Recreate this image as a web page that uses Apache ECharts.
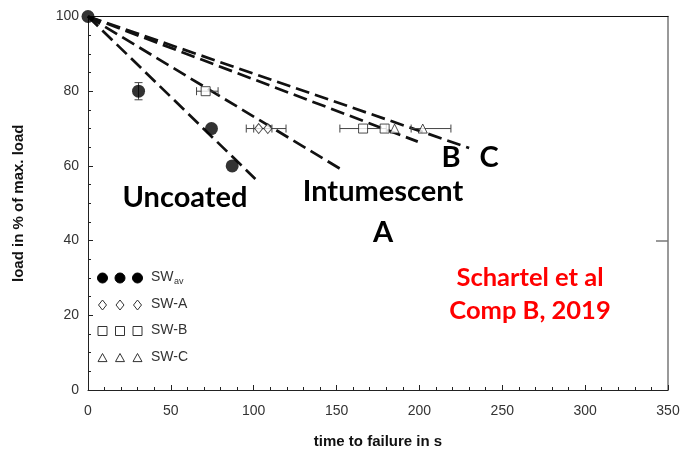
<!DOCTYPE html>
<html><head><meta charset="utf-8">
<script src="https://cdn.jsdelivr.net/npm/echarts@6/dist/echarts.min.js"></script>
<style>html,body{margin:0;padding:0;background:#fff}#c{width:685px;height:454px}</style>
</head><body><div id="c"></div>
<script>
// ---- data ----
const xTicks = [0, 50, 100, 150, 200, 250, 300, 350];
const yTicks = [0, 20, 40, 60, 80, 100];
const timeAv = [0, 30.5, 74.5, 87];
const loadAv = [100, 80, 70, 60];
const timeA = [103, 108.5];
const loadA = [70, 70];
const timeB = [71, 166, 179];
const loadB = [80, 70, 70];
const timeC = [185, 202];
const loadC = [70, 70];
// error bars: [x, y, low, high]
const errAvY = [[30.5, 80, 77.7, 82.3]];
const errAX = [[103, 70, 95.5, 111], [108.5, 70, 100, 119.5]];
const errBX = [[71, 80, 65.5, 78.5], [166, 70, 152, 180]];
const errCX = [[202, 70, 195, 219]];
// dashed fit lines [time, load]
const fitUncoated = [[0, 100], [101, 56.5]];
const fitA = [[0, 100], [153, 59]];
const fitB = [[0, 100], [199, 66.5]];
const fitC = [[0, 100], [230, 64.8]];

const zip = (a, b) => a.map((v, i) => [v, b[i]]);

const chart = echarts.init(document.getElementById('c'), null, {renderer: 'canvas'});

function errRender(vertical) {
  return function (params, api) {
    const x = api.value(0), y = api.value(1), lo = api.value(2), hi = api.value(3);
    let p1, p2, c1, c2;
    const cap = 4;
    if (vertical) {
      p1 = api.coord([x, lo]); p2 = api.coord([x, hi]);
      c1 = [[p1[0] - cap, p1[1]], [p1[0] + cap, p1[1]]];
      c2 = [[p2[0] - cap, p2[1]], [p2[0] + cap, p2[1]]];
    } else {
      p1 = api.coord([lo, y]); p2 = api.coord([hi, y]);
      c1 = [[p1[0], p1[1] - cap], [p1[0], p1[1] + cap]];
      c2 = [[p2[0], p2[1] - cap], [p2[0], p2[1] + cap]];
    }
    const st = {stroke: '#444', lineWidth: 1};
    return {type: 'group', children: [
      {type: 'line', shape: {x1: p1[0], y1: p1[1], x2: p2[0], y2: p2[1]}, style: st},
      {type: 'line', shape: {x1: c1[0][0], y1: c1[0][1], x2: c1[1][0], y2: c1[1][1]}, style: st},
      {type: 'line', shape: {x1: c2[0][0], y1: c2[0][1], x2: c2[1][0], y2: c2[1][1]}, style: st}
    ]};
  };
}

const dashStyle = {color: '#111', width: 2.7, type: [14, 6]};
const fitSeries = (d) => ({type: 'line', data: d, symbol: 'none', lineStyle: dashStyle, z: 3, silent: true, animation: false});
const hollow = {color: '#fff', borderColor: '#222', borderWidth: 1};

const lbl = {fontFamily: 'Liberation Sans, Arial', fontSize: 14, color: '#333'};
const annotFont = 'bold 29px Lato, "Open Sans", sans-serif';
const redFont = 'bold 25.5px Lato, "Open Sans", sans-serif';

const legendRows = [
  {y: 278, sym: 'circle', size: 10, filled: true, text: 'SW', sub: 'av'},
  {y: 305, sym: 'diamond', size: 10, filled: false, text: 'SW-A'},
  {y: 331, sym: 'rect', size: 9, filled: false, text: 'SW-B'},
  {y: 358, sym: 'triangle', size: 9, filled: false, text: 'SW-C'}
];

function symbolShape(sym, cx, cy, s, filled) {
  const st = filled ? {fill: '#000', stroke: '#000', lineWidth: 1} : {fill: '#fff', stroke: '#333', lineWidth: 1};
  const h = s / 2;
  if (sym === 'circle') return {type: 'circle', shape: {cx: cx, cy: cy, r: h}, style: st};
  if (sym === 'rect') return {type: 'rect', shape: {x: cx - h, y: cy - h, width: s, height: s}, style: st};
  if (sym === 'diamond') return {type: 'polygon', shape: {points: [[cx, cy - h], [cx + h * 0.8, cy], [cx, cy + h], [cx - h * 0.8, cy]]}, style: st};
  return {type: 'polygon', shape: {points: [[cx, cy - h], [cx + h, cy + h * 0.8], [cx - h, cy + h * 0.8]]}, style: st};
}

const graphics = [];
legendRows.forEach(r => {
  [102.5, 120, 137.5].forEach(x => graphics.push(symbolShape(r.sym, x, r.y, r.size, r.filled)));
  graphics.push({type: 'text', left: 151, top: r.y - 8, style: {text: r.text, font: '14px "Liberation Sans", Arial', fill: '#333'}});
  if (r.sub) graphics.push({type: 'text', left: 174, top: r.y - 1, style: {text: r.sub, font: '9px "Liberation Sans", Arial', fill: '#333'}});
});
const texts = [
  {t: 'Uncoated', x: 185, y: 198, f: annotFont, c: '#000'},
  {t: 'Intumescent', x: 383, y: 192, f: annotFont, c: '#000'},
  {t: 'A', x: 383, y: 233, f: annotFont, c: '#000'},
  {t: 'B', x: 451, y: 158, f: annotFont, c: '#000'},
  {t: 'C', x: 489, y: 158, f: annotFont, c: '#000'},
  {t: 'Schartel et al', x: 530, y: 278, f: redFont, c: '#ff0000'},
  {t: 'Comp B, 2019', x: 530, y: 311, f: redFont, c: '#ff0000'}
];
texts.forEach(o => graphics.push({type: 'text', x: o.x, y: o.y, style: {text: o.t, font: o.f, fill: o.c, textAlign: 'center', textVerticalAlign: 'middle'}, z: 10}));

chart.setOption({
  animation: false,
  backgroundColor: '#fff',
  grid: {left: 88, right: 17, top: 16.5, bottom: 64, containLabel: false},
  xAxis: [
    {type: 'value', min: 0, max: 350, interval: 50, position: 'bottom',
     axisLine: {onZero: false, lineStyle: {color: '#222', width: 1}},
     axisTick: {inside: true, length: 5, lineStyle: {color: '#222'}},
     minorTick: {show: true, splitNumber: 5, length: 3, lineStyle: {color: '#222'}},
     axisLabel: Object.assign({margin: 14, formatter: v => xTicks.includes(v) ? String(v) : ''}, lbl),
     splitLine: {show: false},
     name: 'time to failure in s', nameLocation: 'middle', nameGap: 44,
     nameTextStyle: {fontFamily: 'Liberation Sans, Arial', fontWeight: 'bold', fontSize: 15, color: '#111'}},
    {type: 'value', min: 0, max: 350, interval: 50, position: 'top',
     axisLine: {onZero: false, lineStyle: {color: '#111', width: 1.2}}, axisTick: {show: false},
     axisLabel: {show: false}, splitLine: {show: false}}
  ],
  yAxis: [
    {type: 'value', min: 0, max: 100, interval: 20, position: 'left',
     axisLine: {onZero: false, lineStyle: {color: '#222', width: 1}},
     axisTick: {inside: true, length: 5, lineStyle: {color: '#222'}},
     minorTick: {show: true, splitNumber: 4, length: 3, lineStyle: {color: '#222'}},
     axisLabel: Object.assign({margin: 9, formatter: v => yTicks.includes(v) ? String(v) : ''}, lbl),
     splitLine: {show: false},
     name: 'load in % of max. load', nameLocation: 'middle', nameGap: 62,
     nameTextStyle: {fontFamily: 'Liberation Sans, Arial', fontWeight: 'bold', fontSize: 15, color: '#111'}},
    {type: 'value', min: 0, max: 100, interval: 20, position: 'right',
     axisLine: {onZero: false, lineStyle: {color: '#777', width: 1.5}},
     axisTick: {show: true, inside: true, length: 12, customValues: [40], lineStyle: {color: '#777', width: 1.5}},
     axisLabel: {show: false}, splitLine: {show: false}}
  ],
  graphic: graphics,
  series: [
    fitSeries(fitUncoated), fitSeries(fitA), fitSeries(fitB), fitSeries(fitC),
    {type: 'custom', renderItem: errRender(true), data: errAvY, z: 4, silent: true},
    {type: 'custom', renderItem: errRender(false), data: errAX, z: 4, silent: true},
    {type: 'custom', renderItem: errRender(false), data: errBX, z: 4, silent: true},
    {type: 'custom', renderItem: errRender(false), data: errCX, z: 4, silent: true},
    {name: 'SWav', type: 'scatter', data: zip(timeAv, loadAv), symbol: 'circle', symbolSize: 13, itemStyle: {color: '#000'}, z: 5},
    {name: 'SW-A', type: 'scatter', data: zip(timeA, loadA), symbol: 'diamond', symbolSize: [8, 10], itemStyle: hollow, z: 5},
    {name: 'SW-B', type: 'scatter', data: zip(timeB, loadB), symbol: 'rect', symbolSize: 9, itemStyle: hollow, z: 5},
    {name: 'SW-C', type: 'scatter', data: zip(timeC, loadC), symbol: 'triangle', symbolSize: 9, itemStyle: hollow, z: 5}
  ]
});
</script>
</body></html>
